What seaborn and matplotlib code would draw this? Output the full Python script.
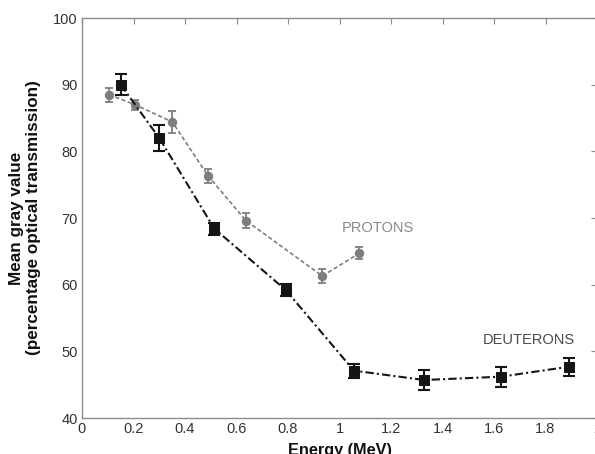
import matplotlib
matplotlib.use("Agg")
import matplotlib.pyplot as plt
import seaborn as sns
import pandas as pd

# Mean gray value vs. particle energy
proton_energy = [0.105, 0.206, 0.351, 0.490, 0.637, 0.933, 1.077]
proton_gray = [88.5, 87.0, 84.4, 76.3, 69.6, 61.3, 64.7]
proton_err = [1.05, 0.75, 1.6, 1.0, 1.15, 1.1, 0.9]

deuteron_energy = [0.150, 0.300, 0.514, 0.791, 1.056, 1.329, 1.628, 1.892]
deuteron_gray = [90.0, 82.0, 68.4, 59.2, 47.1, 45.7, 46.2, 47.7]
deuteron_err = [1.6, 1.9, 0.9, 0.9, 1.05, 1.45, 1.5, 1.35]

x_ticks = [0, 0.2, 0.4, 0.6, 0.8, 1, 1.2, 1.4, 1.6, 1.8, 2]
x_tick_labels = ["0", "0.2", "0.4", "0.6", "0.8", "1", "1.2", "1.4", "1.6", "1.8", "2"]
y_ticks = [40, 50, 60, 70, 80, 90, 100]

sns.set_theme(style="white")
plt.rcParams["font.family"] = ["Liberation Sans", "DejaVu Sans"]

protons = pd.DataFrame({"energy": proton_energy, "gray": proton_gray, "err": proton_err})
deuterons = pd.DataFrame({"energy": deuteron_energy, "gray": deuteron_gray, "err": deuteron_err})

fig = plt.figure(figsize=(5.95, 4.54), dpi=100)
ax = fig.add_axes([82 / 595, 1 - 418 / 454, 515 / 595, 400 / 454])

p_color = "#7e7e7e"
d_color = "#151515"

ax.errorbar(protons["energy"], protons["gray"], yerr=protons["err"], fmt="none",
            ecolor=p_color, elinewidth=1.3, capsize=3, capthick=1.3, zorder=2)
sns.lineplot(data=protons, x="energy", y="gray", ax=ax, color=p_color,
             marker="o", markersize=6, markeredgecolor=p_color,
             linewidth=1.2, linestyle=(0, (2.5, 1.5)), zorder=3)

ax.errorbar(deuterons["energy"], deuterons["gray"], yerr=deuterons["err"], fmt="none",
            ecolor=d_color, elinewidth=1.5, capsize=4, capthick=1.5, zorder=4)
sns.lineplot(data=deuterons, x="energy", y="gray", ax=ax, color=d_color,
             marker="s", markersize=6.5, markeredgecolor=d_color,
             linewidth=1.5, linestyle=(0, (4, 1.5, 1, 1.5)), zorder=5)

ax.text(1.01, 68.5, "PROTONS", color="#8a8a8a", fontsize=10.5, va="center", ha="left")
ax.text(1.556, 51.7, "DEUTERONS", color="#4a4a4a", fontsize=10.5, va="center", ha="left")

ax.set_xlim(0, 2)
ax.set_ylim(40, 100)
ax.set_xticks(x_ticks)
ax.set_xticklabels(x_tick_labels)
ax.set_yticks(y_ticks)

for s in ax.spines.values():
    s.set_color("#8c8c8c")
    s.set_linewidth(1.0)
ax.tick_params(direction="in", length=4, width=0.8, color="#8c8c8c",
               top=True, right=True, labelsize=10.5, labelcolor="#333333", pad=3)

ax.set_xlabel("Energy (MeV)", fontsize=11.7, fontweight="bold", color="#111111", labelpad=5)
ax.set_ylabel("Mean gray value\n(percentage optical transmission)", fontsize=12.3,
              fontweight="bold", color="#111111", labelpad=9, linespacing=1.15)

fig.savefig("out.png", dpi=100)
